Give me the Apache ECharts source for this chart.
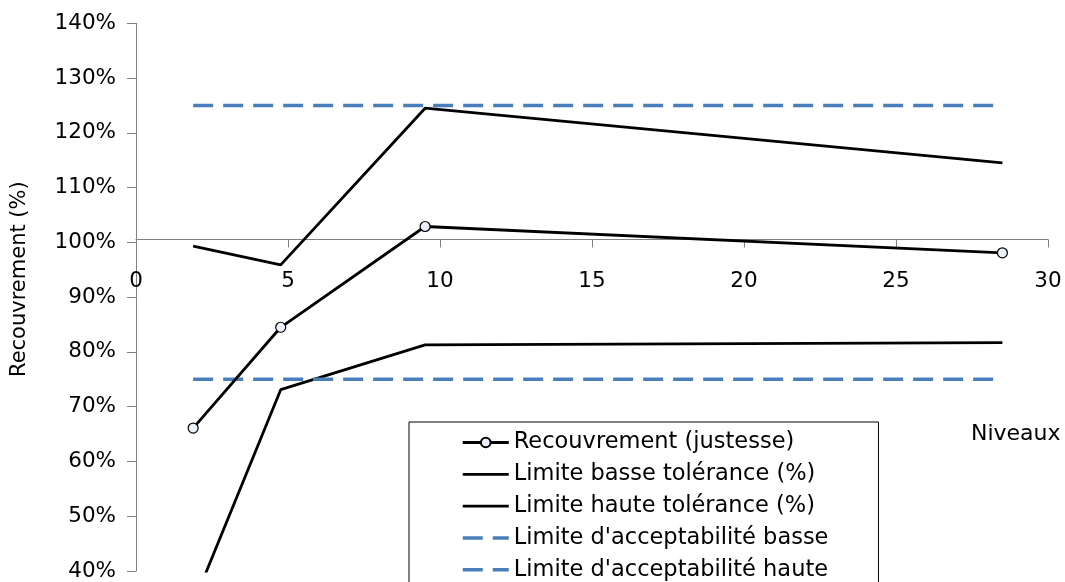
<!DOCTYPE html>
<html>
<head>
<meta charset="utf-8">
<script src="https://cdn.jsdelivr.net/npm/echarts@6/dist/echarts.min.js"></script>
<style>
  html, body { margin: 0; padding: 0; background: #fff; }
  #chart { width: 1065px; height: 582px; }
</style>
</head>
<body>
<div id="chart"></div>
<script>
// niveaux (x) and the series
const niveaux = [1.88, 4.76, 9.51, 28.5];
const recouvrement = [0.661, 0.845, 1.029, 0.981];
const limBasseTol = [0.34, 0.731, 0.813, 0.817];
const limHauteTol = [0.993, 0.959, 1.245, 1.145];
const accBasse = [0.75, 0.75, 0.75, 0.75];
const accHaute = [1.25, 1.25, 1.25, 1.25];

const names = [
  'Recouvrement (justesse)',
  'Limite basse tolérance (%)',
  'Limite haute tolérance (%)',
  "Limite d'acceptabilité basse",
  "Limite d'acceptabilité haute",
];

const FONT = 'DejaVu Sans';
const AXIS = '#808080';
const BLUE = '#4a7ebb';
const DASH = [20, 10];

const Y_MIN = 0.4, Y_MAX = 1.4, Y_CROSS = 1.0;
const GRID_TOP = 23.3, GRID_BOTTOM = 6.2;
const gridH = 582 - GRID_TOP - GRID_BOTTOM;

const pairs = (ys) => niveaux.map((x, i) => [x, ys[i]]);

const chart = echarts.init(document.getElementById('chart'));

const plain = (name, ys, color, dashed) => ({
  name,
  type: 'line',
  data: pairs(ys),
  symbol: 'none',
  lineStyle: dashed
    ? { color, width: 3.5, type: DASH }
    : { color, width: 2.8 },
  itemStyle: { color },
  silent: true,
});

// legend entries: hide the default symbol for the plain lines
const noDot = { opacity: 0 };
const solid = { width: 2.8 };
const dashed = { type: DASH, width: 3.5 };
const legendData = [
  { name: names[0], lineStyle: solid },
  { name: names[1], itemStyle: noDot, lineStyle: solid },
  { name: names[2], itemStyle: noDot, lineStyle: solid },
  { name: names[3], itemStyle: noDot, lineStyle: dashed },
  { name: names[4], itemStyle: noDot, lineStyle: dashed },
];

chart.setOption({
  animation: false,
  textStyle: { fontFamily: FONT, color: '#000' },
  grid: { left: 136, right: 17, top: GRID_TOP, bottom: GRID_BOTTOM },
  xAxis: {
    type: 'value',
    min: 0,
    max: 30,
    interval: 5,
    // axis crosses the y axis at 100%
    offset: -(Y_CROSS - Y_MIN) / (Y_MAX - Y_MIN) * gridH,
    axisLine: { show: true, onZero: false, lineStyle: { color: AXIS, width: 1 } },
    axisTick: { show: true, length: 8, lineStyle: { color: AXIS } },
    axisLabel: { color: '#000', fontSize: 21.5, fontFamily: FONT, margin: 31 },
    splitLine: { show: false },
  },
  yAxis: {
    type: 'value',
    min: Y_MIN,
    max: Y_MAX,
    interval: 0.1,
    name: 'Recouvrement (%)',
    nameLocation: 'middle',
    nameGap: 106,
    nameTextStyle: { fontSize: 21, color: '#000', fontFamily: FONT, padding: [0, 0, 0, 36] },
    axisLine: { show: true, lineStyle: { color: AXIS, width: 1 } },
    axisTick: { show: true, length: 9, lineStyle: { color: AXIS } },
    axisLabel: {
      color: '#000',
      fontSize: 21.5,
      fontFamily: FONT,
      margin: 20,
      formatter: (v) => Math.round(v * 100) + '%',
    },
    splitLine: { show: false },
  },
  legend: {
    orient: 'vertical',
    left: 409,
    top: 422,
    height: 220,
    padding: [9, 50, 40, 52],
    itemWidth: 46,
    itemHeight: 12,
    itemGap: 8.8,
    backgroundColor: '#fff',
    borderColor: '#000',
    borderWidth: 1,
    textStyle: { fontSize: 22.5, lineHeight: 22, fontFamily: FONT, color: '#000' },
    data: legendData,
  },
  graphic: [
    {
      type: 'text',
      left: 971,
      top: 423,
      style: { text: 'Niveaux', font: '22px "DejaVu Sans"', fill: '#000' },
    },
  ],
  series: [
    plain(names[1], limBasseTol, '#000', false),
    plain(names[2], limHauteTol, '#000', false),
    plain(names[3], accBasse, BLUE, true),
    plain(names[4], accHaute, BLUE, true),
    {
      name: names[0],
      type: 'line',
      data: pairs(recouvrement),
      symbol: 'circle',
      symbolSize: 10,
      lineStyle: { color: '#000', width: 2.8 },
      itemStyle: { color: '#eaf1fa', borderColor: '#000', borderWidth: 1.2 },
      z: 3,
    },
  ],
});
</script>
</body>
</html>
